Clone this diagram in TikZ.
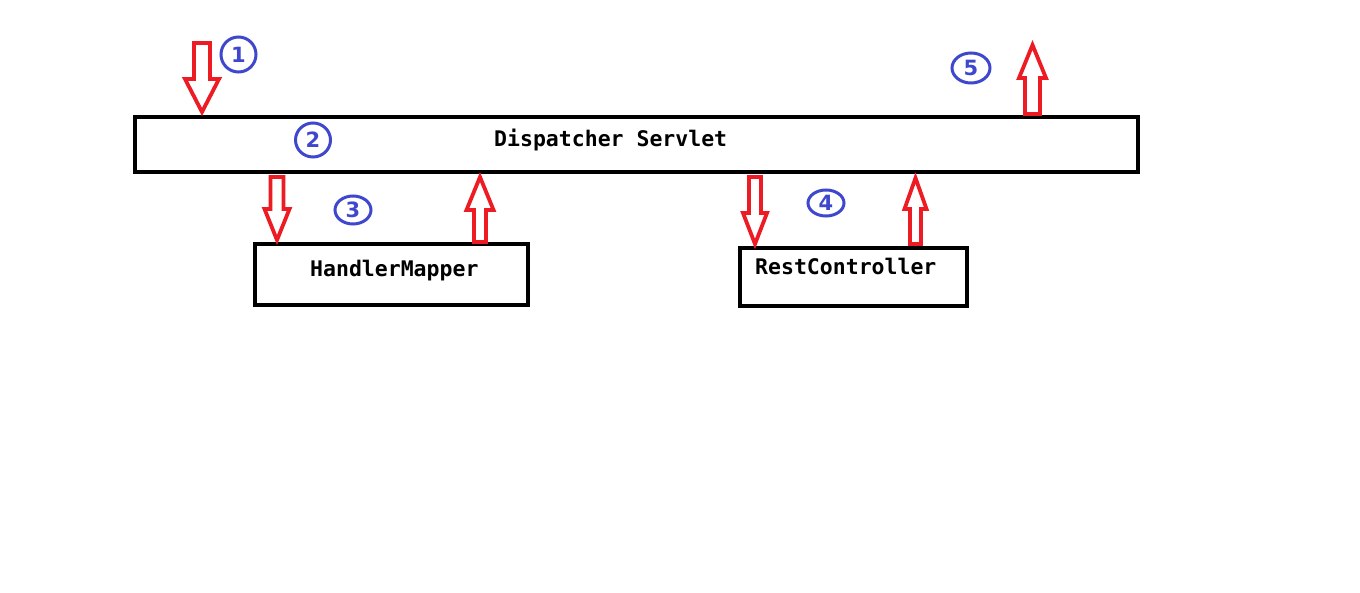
\documentclass[tikz,border=0pt]{standalone}
\usepackage{fontspec}
\setmainfont{DejaVu Sans}
\newfontfamily\codefont{DejaVu Sans Mono}
\usetikzlibrary{shapes.geometric}
\definecolor{pred}{RGB}{237,28,36}
\definecolor{pblue}{RGB}{63,72,204}
\tikzset{
  boxstyle/.style={draw=black, line width=4.6pt, rectangle, inner sep=0pt},
  codetext/.style={font=\codefont\bfseries\fontsize{21.5}{24}\selectfont, inner sep=0pt, text=black},
  numstyle/.style={draw=pblue, line width=3pt, ellipse, inner sep=0pt, text=pblue,
    font=\bfseries\fontsize{21}{22}\selectfont},
  blockarrow/.style={draw=pred, line width=3.8pt, line join=miter, fill=white}
}
% \barrow{name}{x}{tail y}{head base y}{tip y}{shaft half}{head half}
\newcommand{\barrow}[7]{%
  \coordinate (#1-tail) at (#2,#3);
  \coordinate (#1-tip) at (#2,#5);
  \draw[blockarrow] (#2-#6,#3) -- (#2+#6,#3) -- (#2+#6,#4) -- (#2+#7,#4)
    -- (#1-tip) -- (#2-#7,#4) -- (#2-#6,#4) -- cycle;}
\begin{document}
\begin{tikzpicture}[x=1pt,y=-1pt]
\useasboundingbox[fill=white] (0,0) rectangle (1360,593);
% boxes
\node[boxstyle, minimum width=1003pt, minimum height=55pt] (ds) at (636.5,144.5) {};
\node[codetext, anchor=base west] (dstext) at (494,147) {Dispatcher Servlet};
\node[boxstyle, minimum width=273pt, minimum height=61pt] (hm) at (391.5,274.5) {};
\node[codetext, anchor=base west] (hmtext) at (310,277) {HandlerMapper};
\node[boxstyle, minimum width=227pt, minimum height=58pt] (rc) at (853.5,277) {};
\node[codetext, anchor=base west] (rctext) at (755,275) {RestController};
% block arrows
\barrow{a1}{202}{43}{79}{112}{8}{17}
\barrow{a2}{277}{177}{209}{240}{6.5}{12.5}
\barrow{a3}{480}{242}{210}{177}{6}{13.5}
\barrow{a4}{755}{177}{213}{244}{6}{12}
\barrow{a5}{915.5}{244}{209}{178}{5.5}{11}
\barrow{a6}{1032.5}{114}{78}{45}{7.5}{13.5}
% step numbers
\node[numstyle, minimum width=35pt, minimum height=35pt] (n1) at (238.5,54.5) {1};
\node[numstyle, minimum width=35pt, minimum height=34pt] (n2) at (313,140) {2};
\node[numstyle, minimum width=36pt, minimum height=28pt] (n3) at (353,210) {3};
\node[numstyle, minimum width=36pt, minimum height=26pt] (n4) at (826,203) {4};
\node[numstyle, minimum width=38pt, minimum height=30pt] (n5) at (971,68) {5};
\end{tikzpicture}
\end{document}
